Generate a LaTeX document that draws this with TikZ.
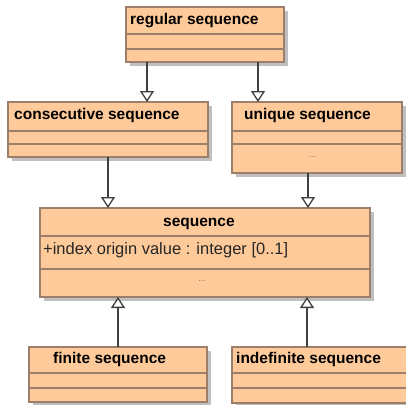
\documentclass[tikz,border=0pt]{standalone}
\usepackage{fontspec}
\setmainfont{Liberation Sans}
\usepackage{xcolor}
\usetikzlibrary{arrows.meta,positioning,shadows}

\definecolor{classfill}{HTML}{FFCA99}
\definecolor{classline}{HTML}{9C7E6A}
\definecolor{genline}{HTML}{404040}

\begin{document}
\begin{tikzpicture}[
  x=1pt, y=-1pt,
  classbox/.style={draw=classline, fill=classfill, line width=1.3pt, inner sep=0pt, outer sep=0pt,
    drop shadow={shadow xshift=4pt, shadow yshift=-4pt, fill=black!25, opacity=1}},
  divline/.style={draw=classline, line width=1.3pt},
  title/.style={anchor=base west, inner sep=0pt, font=\bfseries\fontsize{15.5}{18}\selectfont},
  attr/.style={anchor=base west, inner sep=0pt, text=black!85, font=\fontsize{16.5}{19}\selectfont},
  more/.style={inner sep=0pt, text=black!60, font=\fontsize{8}{9}\selectfont},
  gen/.style={-{Triangle[open, length=11pt, width=14pt, fill=white]}, line width=1.3pt, genline}
]
  \useasboundingbox (0,0) rectangle (406,404);

  % Classes
  \node[classbox, minimum width=158pt, minimum height=55pt] (reg) at (205,34.5) {};
  \node[classbox, minimum width=200pt, minimum height=55pt] (cons) at (108,129.5) {};
  \node[classbox, minimum width=170pt, minimum height=71pt] (uniq) at (317,137.5) {};
  \node[classbox, minimum width=330pt, minimum height=89pt] (seq) at (205,252.5) {};
  \node[classbox, minimum width=178pt, minimum height=55pt] (fin) at (118,374.5) {};
  \node[classbox, minimum width=180pt, minimum height=56pt] (indef) at (322,375) {};

  % Compartments
  \draw[divline] ([yshift=-27pt]reg.north west) -- ([yshift=-27pt]reg.north east);
  \draw[divline] ([yshift=-42pt]reg.north west) -- ([yshift=-42pt]reg.north east);
  \draw[divline] ([yshift=-29pt]cons.north west) -- ([yshift=-29pt]cons.north east);
  \draw[divline] ([yshift=-42pt]cons.north west) -- ([yshift=-42pt]cons.north east);
  \draw[divline] ([yshift=-29pt]uniq.north west) -- ([yshift=-29pt]uniq.north east);
  \draw[divline] ([yshift=-42pt]uniq.north west) -- ([yshift=-42pt]uniq.north east);
  \draw[divline] ([yshift=-28pt]seq.north west) -- ([yshift=-28pt]seq.north east);
  \draw[divline] ([yshift=-61pt]seq.north west) -- ([yshift=-61pt]seq.north east);
  \draw[divline] ([yshift=-26pt]fin.north west) -- ([yshift=-26pt]fin.north east);
  \draw[divline] ([yshift=-41pt]fin.north west) -- ([yshift=-41pt]fin.north east);
  \draw[divline] ([yshift=-26pt]indef.north west) -- ([yshift=-26pt]indef.north east);
  \draw[divline] ([yshift=-41pt]indef.north west) -- ([yshift=-41pt]indef.north east);

  % Names and members
  \node[title] (regname) at (130,24.5) {regular sequence};
  \node[title] (consname) at (14,119.5) {consecutive sequence};
  \node[title] (uniqname) at (244,119.5) {unique sequence};
  \node[more] (uniqops) at (313,157) {...};
  \node[title] (seqname) at (163,226) {sequence};
  \node[attr] (seqattr) at (43,254) {+index origin value : integer [0..1]};
  \node[more] (seqops) at (202,281) {...};
  \node[title] (finname) at (53,363) {finite sequence};
  \node[title] (indefname) at (236,363) {indefinite sequence};

  % Generalizations
  \draw[gen] ([xshift=-58pt]reg.south) -- ([xshift=-58pt]reg.south |- cons.north);
  \draw[gen] ([xshift=53pt]reg.south) -- ([xshift=53pt]reg.south |- uniq.north);
  \draw[gen] (cons.south) -- (cons.south |- seq.north);
  \draw[gen] ([xshift=-9pt]uniq.south) -- ([xshift=-9pt]uniq.south |- seq.north);
  \draw[gen] (fin.north) -- (fin.north |- seq.south);
  \draw[gen] ([xshift=75pt]indef.north west) -- ([xshift=75pt]indef.north west |- seq.south);
\end{tikzpicture}
\end{document}
